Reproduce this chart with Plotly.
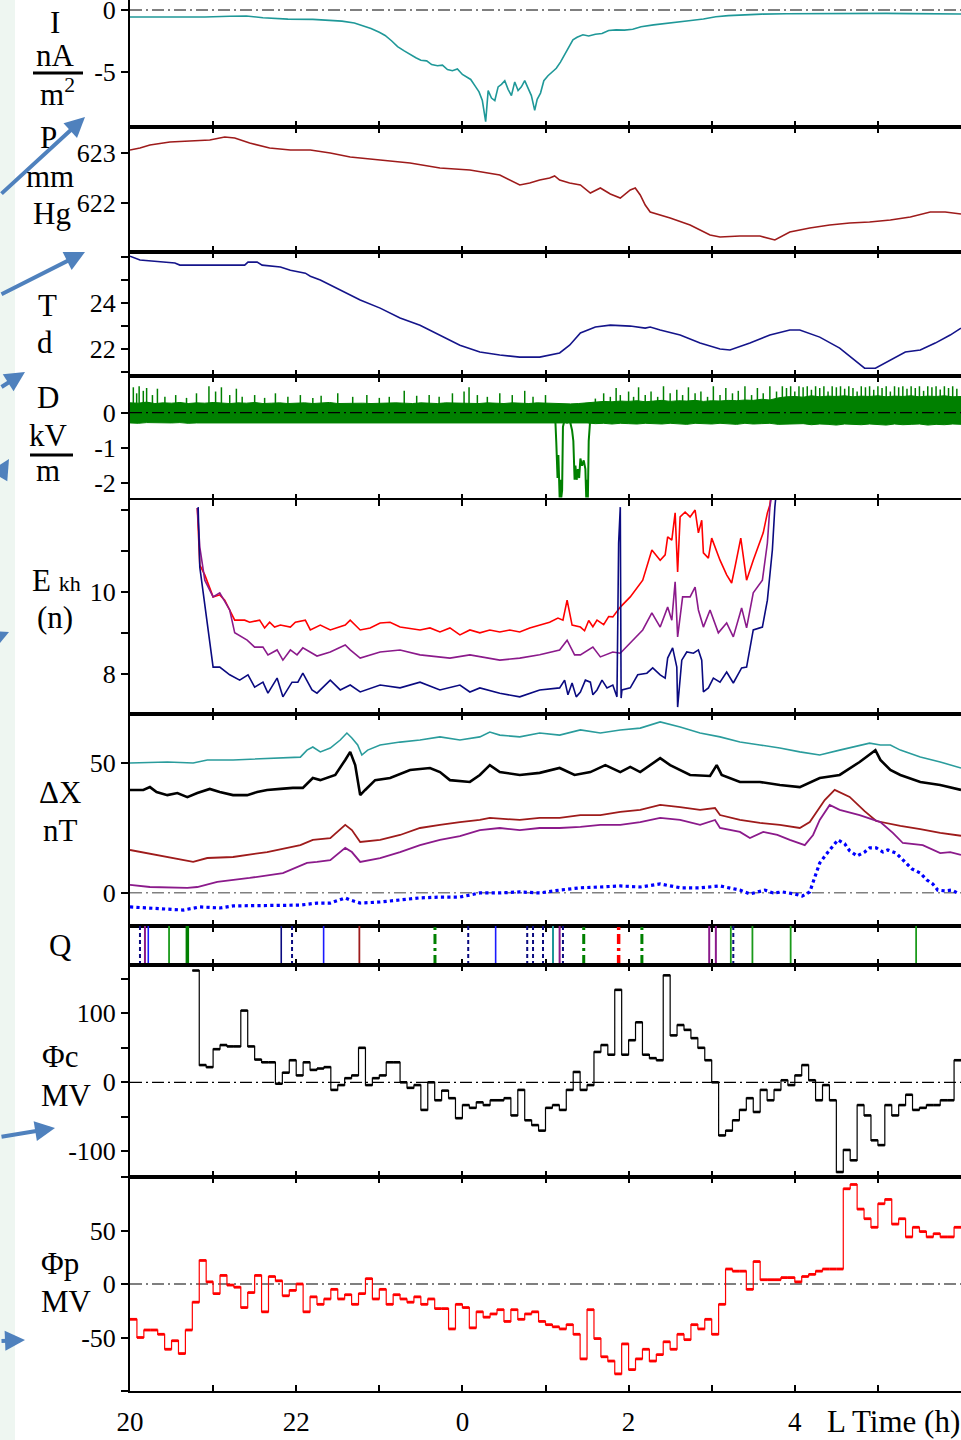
import plotly.graph_objects as go
from plotly.subplots import make_subplots

# ---------------- data ----------------
I_t = [20.0, 20.3, 20.6, 20.9, 21.2, 21.4, 21.6, 21.9, 22.2, 22.4, 22.55, 22.7, 22.8, 22.9, 23.0, 23.07, 23.15, 23.22, 23.3, 23.37,
       23.44, 23.5, 23.57, 23.63, 23.7, 23.76, 23.82, 23.88, 23.94, 24.0, 24.05, 24.1, 24.15, 24.2, 24.24, 24.28, 24.31, 24.35, 24.39, 24.43,
       24.47, 24.51, 24.55, 24.59, 24.63, 24.67, 24.71, 24.75, 24.79, 24.83, 24.87, 24.9, 24.94, 24.98, 25.03, 25.08, 25.13, 25.18, 25.23, 25.28,
       25.33, 25.38, 25.45, 25.52, 25.6, 25.68, 25.76, 25.85, 25.95, 26.05, 26.15, 26.3, 26.45, 26.6, 26.75, 26.9, 27.05, 27.2, 27.4, 27.6,
       27.9, 28.2, 28.5, 28.8, 29.1, 29.4, 29.7, 30.0]
I_v = [-0.56, -0.58, -0.55, -0.57, -0.5, -0.48, -0.62, -0.74, -0.76, -0.82, -0.9, -1.05, -1.25, -1.5, -1.8, -2.05, -2.5, -2.95, -3.3, -3.6,
       -3.85, -4.05, -4.1, -4.4, -4.5, -4.45, -4.8, -4.9, -4.75, -5.2, -5.4, -5.6, -6.1, -6.6, -7.3, -9.0, -6.5, -7.1, -7.3, -6.2,
       -6.0, -5.7, -6.4, -6.9, -5.8, -6.5, -6.2, -5.7, -6.3, -6.9, -8.1, -7.2, -6.7, -5.7, -5.3, -5.0, -4.7, -4.2, -3.6, -2.9,
       -2.4, -2.2, -2.0, -2.1, -1.95, -1.9, -1.65, -1.6, -1.62, -1.55, -1.35, -1.2, -1.1, -0.98, -0.85, -0.72, -0.55, -0.45, -0.38, -0.33,
       -0.3, -0.28, -0.27, -0.28, -0.27, -0.29, -0.3, -0.32]

P_t = [20.0, 20.12, 20.24, 20.48, 20.72, 20.96, 21.14, 21.26, 21.44, 21.68, 21.93, 22.17, 22.41, 22.65, 23.01, 23.37, 23.73, 24.09, 24.45, 24.57,
       24.69, 24.81, 24.93, 25.05, 25.11, 25.17, 25.29, 25.42, 25.54, 25.66, 25.78, 25.9, 26.02, 26.08, 26.14, 26.2, 26.26, 26.5, 26.74, 26.98,
       27.1, 27.34, 27.58, 27.76, 27.94, 28.18, 28.42, 28.66, 28.9, 29.15, 29.39, 29.63, 29.81, 30.0]
P_v = [623.06, 623.1, 623.16, 623.22, 623.24, 623.26, 623.32, 623.3, 623.2, 623.1, 623.06, 623.06, 623.0, 622.92, 622.86, 622.8, 622.7, 622.66, 622.56, 622.46,
       622.36, 622.4, 622.46, 622.5, 622.54, 622.46, 622.4, 622.36, 622.2, 622.3, 622.18, 622.1, 622.26, 622.3, 622.16, 621.96, 621.82, 621.7, 621.56, 621.36,
       621.32, 621.34, 621.34, 621.26, 621.42, 621.5, 621.56, 621.6, 621.62, 621.66, 621.72, 621.82, 621.82, 621.78]

T_t = [20.0, 20.12, 20.54, 20.6, 21.38, 21.42, 21.53, 21.59, 21.81, 21.93, 22.11, 22.17, 22.29, 22.53, 22.77, 23.01, 23.25, 23.49, 23.73, 23.97,
       24.21, 24.45, 24.69, 24.93, 25.17, 25.29, 25.42, 25.6, 25.78, 26.02, 26.2, 26.26, 26.38, 26.62, 26.86, 27.1, 27.22, 27.46, 27.7, 27.94,
       28.06, 28.3, 28.54, 28.72, 28.84, 28.97, 29.15, 29.33, 29.51, 29.69, 29.87, 30.0]
T_v = [26.04, 25.87, 25.74, 25.65, 25.65, 25.78, 25.78, 25.65, 25.57, 25.43, 25.3, 25.17, 25.0, 24.57, 24.13, 23.78, 23.35, 23.04, 22.61, 22.17,
       21.87, 21.74, 21.65, 21.65, 21.83, 22.17, 22.7, 22.96, 23.04, 23.0, 22.91, 22.96, 22.83, 22.61, 22.26, 22.0, 21.96, 22.26, 22.61, 22.83,
       22.83, 22.52, 22.04, 21.52, 21.17, 21.17, 21.52, 21.87, 21.96, 22.26, 22.61, 22.91]

# D: noise band envelope (every 0.1 h), upward spikes, and the negative excursions
D_env_t0, D_env_dt = 20.0, 0.1
D_hi = [0.28, 0.27, 0.30, 0.26, 0.28, 0.27, 0.29, 0.26, 0.28, 0.27,
        0.29, 0.27, 0.26, 0.28, 0.27, 0.29, 0.26, 0.27, 0.28, 0.26,
        0.27, 0.28, 0.26, 0.27, 0.29, 0.26, 0.27, 0.28, 0.27, 0.26,
        0.27, 0.26, 0.28, 0.27, 0.26, 0.28, 0.27, 0.26, 0.28, 0.27,
        0.28, 0.27, 0.26, 0.28, 0.27, 0.26, 0.28, 0.27, 0.26, 0.28,
        0.27, 0.26, 0.25, 0.25, 0.26, 0.27, 0.30, 0.32, 0.31, 0.33,
        0.32, 0.34, 0.31, 0.33, 0.35, 0.32, 0.34, 0.33, 0.35, 0.32,
        0.34, 0.33, 0.35, 0.34, 0.36, 0.35, 0.38, 0.36, 0.42, 0.45,
        0.46, 0.44, 0.48, 0.45, 0.47, 0.46, 0.48, 0.45, 0.47, 0.46,
        0.48, 0.45, 0.47, 0.46, 0.48, 0.45, 0.47, 0.46, 0.48, 0.45, 0.46]
D_lo = [-0.29, -0.30, -0.28, -0.29, -0.30, -0.29, -0.28, -0.30, -0.29, -0.29,
        -0.30, -0.29, -0.28, -0.29, -0.30, -0.29, -0.29, -0.28, -0.30, -0.29,
        -0.29, -0.30, -0.29, -0.28, -0.29, -0.30, -0.29, -0.29, -0.28, -0.30,
        -0.29, -0.29, -0.30, -0.28, -0.29, -0.30, -0.29, -0.28, -0.29, -0.30,
        -0.29, -0.30, -0.29, -0.28, -0.29, -0.30, -0.29, -0.29, -0.30, -0.28,
        -0.29, -0.30, -0.29, -0.29, -0.30, -0.29, -0.31, -0.30, -0.32, -0.30,
        -0.31, -0.32, -0.30, -0.31, -0.32, -0.30, -0.31, -0.33, -0.30, -0.31,
        -0.32, -0.30, -0.31, -0.33, -0.30, -0.32, -0.31, -0.30, -0.33, -0.32,
        -0.33, -0.31, -0.34, -0.32, -0.33, -0.35, -0.32, -0.33, -0.34, -0.32,
        -0.33, -0.35, -0.32, -0.34, -0.33, -0.32, -0.35, -0.33, -0.34, -0.32, -0.33]
D_spk_t = [20.04, 20.08, 20.11, 20.16, 20.2, 20.27, 20.33, 20.42, 20.55, 20.68, 20.8, 20.95, 21.03, 21.1, 21.2, 21.28, 21.35, 21.5, 21.62, 21.75,
           21.9, 22.05, 22.2, 22.3, 22.5, 22.68, 22.85, 23.0, 23.12, 23.3, 23.45, 23.6, 23.72, 23.88, 24.02, 24.08, 24.18, 24.3, 24.45, 24.6,
           24.75, 24.85, 25.0,
           25.6, 25.7, 25.78, 25.85, 25.9, 26.0, 26.06, 26.12, 26.2, 26.27, 26.35, 26.42, 26.5, 26.58, 26.65, 26.72, 26.8, 26.87, 26.95, 27.02,
           27.1, 27.17, 27.25, 27.32, 27.4, 27.48, 27.55, 27.62, 27.7, 27.78,
           27.85, 27.9, 27.95, 28.0, 28.05, 28.1, 28.15, 28.2, 28.25, 28.3, 28.35, 28.4, 28.45, 28.5, 28.55, 28.6, 28.65, 28.7, 28.75, 28.8,
           28.85, 28.9, 28.95, 29.0, 29.05, 29.1, 29.15, 29.2, 29.25, 29.3, 29.35, 29.4, 29.45, 29.5, 29.55, 29.6, 29.65, 29.7, 29.75, 29.8,
           29.85, 29.9, 29.95]
D_spk_v = [0.72, 0.55, 0.75, 0.62, 0.7, 0.5, 0.68, 0.45, 0.5, 0.42, 0.55, 0.75, 0.6, 0.72, 0.5, 0.68, 0.45, 0.5, 0.42, 0.55,
           0.45, 0.5, 0.42, 0.48, 0.55, 0.45, 0.5, 0.42, 0.45, 0.62, 0.48, 0.5, 0.45, 0.55, 0.6, 0.72, 0.5, 0.45, 0.55, 0.5,
           0.62, 0.45, 0.5,
           0.4, 0.55, 0.45, 0.7, 0.5, 0.6, 0.45, 0.72, 0.5, 0.6, 0.45, 0.75, 0.55, 0.65, 0.5, 0.72, 0.55, 0.6, 0.45, 0.75,
           0.5, 0.7, 0.55, 0.62, 0.75, 0.5, 0.7, 0.55, 0.75, 0.6,
           0.75, 0.7, 0.75, 0.6, 0.75, 0.72, 0.75, 0.65, 0.75, 0.7, 0.75, 0.6, 0.75, 0.72, 0.75, 0.68, 0.75, 0.7, 0.6, 0.75,
           0.72, 0.75, 0.65, 0.75, 0.7, 0.75, 0.6, 0.75, 0.72, 0.75, 0.68, 0.75, 0.7, 0.75, 0.62, 0.75, 0.72, 0.75, 0.66, 0.75,
           0.7, 0.75, 0.68]
D_dip_t = [25.09, 25.12, 25.13, 25.145, 25.155, 25.17, 25.18, 25.19, 25.2, 25.21, 25.22, 25.24, 25.26, 25.28, 25.3, 25.32, 25.335, 25.35, 25.36, 25.375,
           25.39, 25.405, 25.42, 25.44, 25.46, 25.48, 25.49, 25.5, 25.51, 25.52, 25.535, 25.55]
D_dip_v = [0.0, -0.3, -0.85, -1.85, -1.2, -2.4, -1.9, -2.4, -2.2, -0.4, -0.3, 0.1, -0.3, 0.05, -0.3, -0.5, -0.8, -1.9, -1.5, -1.9,
           -1.6, -1.85, -1.3, -1.5, -1.35, -1.6, -2.4, -1.9, -2.4, -0.8, -0.3, 0.0]

Er_t = [20.81, 20.84, 20.9, 21.0, 21.08, 21.14, 21.26, 21.38, 21.44, 21.56, 21.62, 21.68, 21.74, 21.81, 21.93, 21.99, 22.11, 22.17, 22.29, 22.41,
        22.59, 22.65, 22.77, 22.89, 23.01, 23.13, 23.25, 23.49, 23.61, 23.73, 23.85, 23.97, 24.09, 24.21, 24.33, 24.45, 24.57, 24.69, 24.81, 24.93,
        25.05, 25.15, 25.21, 25.26, 25.32, 25.42, 25.47, 25.52, 25.57, 25.62, 25.7, 25.76, 25.81, 25.9, 26.02, 26.17, 26.28, 26.38, 26.44, 26.47,
        26.52, 26.56, 26.59, 26.62, 26.68, 26.74, 26.8, 26.84, 26.88, 26.9, 26.96, 27.0, 27.1, 27.18, 27.24, 27.28, 27.35, 27.42, 27.5, 27.62,
        27.67, 27.7, 27.72]
Er_v = [12.06, 10.66, 10.42, 9.88, 9.93, 9.8, 9.31, 9.31, 9.26, 9.31, 9.12, 9.26, 9.14, 9.19, 9.14, 9.26, 9.31, 9.07, 9.19, 9.07,
        9.19, 9.31, 9.07, 9.12, 9.24, 9.26, 9.14, 9.07, 9.12, 9.02, 9.12, 8.95, 9.07, 9.0, 9.07, 9.02, 9.07, 9.02, 9.12, 9.19,
        9.26, 9.36, 9.31, 9.8, 9.19, 9.14, 9.05, 9.3, 9.15, 9.31, 9.2, 9.4, 9.39, 9.63, 9.88, 10.29, 11.03, 10.78, 10.91, 11.35,
        11.27, 11.94, 10.49, 11.84, 11.96, 11.84, 12.01, 11.45, 11.76, 10.96, 10.83, 11.32, 10.78, 10.42, 10.22, 10.61, 11.32, 10.29, 10.78, 11.45,
        11.94, 12.13, 12.5]

Ep_t = [20.81, 20.84, 20.9, 21.0, 21.08, 21.2, 21.26, 21.41, 21.5, 21.6, 21.66, 21.77, 21.84, 21.93, 22.01, 22.08, 22.25, 22.41, 22.59, 22.65,
        22.77, 23.01, 23.25, 23.49, 23.85, 24.09, 24.45, 24.69, 24.93, 25.17, 25.26, 25.35, 25.42, 25.57, 25.66, 25.81, 25.9, 26.05, 26.17, 26.28,
        26.38, 26.47, 26.52, 26.56, 26.59, 26.65, 26.74, 26.8, 26.84, 26.9, 26.98, 27.08, 27.18, 27.26, 27.36, 27.42, 27.5, 27.61, 27.67, 27.7,
        27.73]
Ep_v = [12.06, 11.1, 10.29, 9.88, 9.98, 9.56, 9.0, 8.82, 8.65, 8.65, 8.46, 8.58, 8.33, 8.58, 8.46, 8.63, 8.43, 8.53, 8.7, 8.58,
        8.38, 8.53, 8.58, 8.46, 8.38, 8.46, 8.33, 8.38, 8.46, 8.58, 8.82, 8.46, 8.46, 8.65, 8.41, 8.53, 8.5, 8.82, 9.07, 9.49,
        9.14, 9.63, 9.31, 10.25, 8.9, 9.88, 9.88, 10.12, 9.56, 9.14, 9.56, 9.0, 9.24, 8.9, 9.61, 9.12, 9.98, 10.29, 11.2, 12.08,
        12.5]

En_t = [20.82, 20.84, 21.0, 21.08, 21.2, 21.32, 21.42, 21.5, 21.6, 21.66, 21.77, 21.84, 21.95, 22.02, 22.08, 22.19, 22.25, 22.41, 22.53, 22.65,
        22.77, 23.01, 23.25, 23.49, 23.73, 23.97, 24.09, 24.21, 24.45, 24.69, 24.93, 25.17, 25.23, 25.27, 25.32, 25.37, 25.42, 25.48, 25.54, 25.57,
        25.62, 25.68, 25.74, 25.81, 25.86, 25.88, 25.9, 25.91, 25.92, 26.02, 26.11, 26.22, 26.29, 26.38, 26.44, 26.47, 26.53, 26.58, 26.59, 26.64,
        26.7, 26.78, 26.84, 26.88, 26.9, 26.96, 27.02, 27.1, 27.18, 27.26, 27.36, 27.42, 27.5, 27.61, 27.67, 27.73, 27.76, 27.78]
En_v = [12.08, 10.61, 8.16, 8.16, 7.97, 7.84, 7.97, 7.67, 7.79, 7.52, 7.89, 7.43, 7.79, 7.79, 8.01, 7.6, 7.52, 7.84, 7.6, 7.72,
        7.55, 7.72, 7.65, 7.79, 7.6, 7.72, 7.55, 7.65, 7.52, 7.43, 7.6, 7.65, 7.84, 7.48, 7.77, 7.43, 7.55, 7.84, 7.79, 7.48,
        7.6, 7.84, 7.65, 7.72, 7.43, 11.2, 12.08, 7.4, 7.6, 7.65, 7.97, 8.01, 8.14, 7.97, 7.89, 8.38, 8.63, 8.16, 7.18, 8.33,
        8.53, 8.5, 8.58, 8.33, 7.55, 7.65, 7.89, 7.79, 8.04, 7.77, 8.14, 8.16, 9.07, 9.14, 9.8, 11.03, 12.08, 12.5]

Xt_t = [20.0, 20.45, 20.76, 20.93, 21.24, 21.65, 22.05, 22.13, 22.2, 22.29, 22.41, 22.53, 22.61, 22.67, 22.74, 22.79, 22.86, 23.01, 23.25, 23.49,
        23.73, 23.97, 24.21, 24.33, 24.45, 24.69, 24.93, 25.17, 25.42, 25.66, 25.9, 26.14, 26.38, 26.62, 26.86, 27.1, 27.34, 27.58, 27.82, 28.06,
        28.3, 28.54, 28.78, 28.9, 29.03, 29.15, 29.27, 29.51, 29.75, 30.0]
Xt_v = [50.1, 50.5, 50.1, 51.3, 51.3, 52.0, 52.4, 55.1, 56.3, 54.4, 55.9, 59.0, 61.7, 59.8, 57.1, 53.2, 55.1, 57.1, 58.2, 59.0,
        60.2, 59.0, 60.2, 62.1, 60.9, 60.2, 61.7, 60.9, 62.9, 61.7, 62.9, 63.6, 66.0, 64.0, 61.7, 60.2, 58.2, 57.1, 55.9, 54.4,
        53.2, 55.1, 57.1, 57.8, 57.1, 57.1, 55.1, 52.4, 50.5, 48.2]

Xk_t = [20.0, 20.16, 20.24, 20.32, 20.45, 20.57, 20.69, 20.81, 20.96, 21.08, 21.24, 21.41, 21.53, 21.65, 21.81, 21.96, 22.08, 22.2, 22.29, 22.47,
        22.59, 22.65, 22.71, 22.77, 22.83, 22.95, 23.13, 23.37, 23.61, 23.73, 23.85, 24.09, 24.21, 24.33, 24.45, 24.69, 24.93, 25.17, 25.35, 25.54,
        25.72, 25.9, 26.02, 26.14, 26.38, 26.5, 26.74, 26.98, 27.06, 27.12, 27.34, 27.58, 27.82, 28.06, 28.3, 28.54, 28.78, 28.97, 29.03, 29.15,
        29.27, 29.51, 29.75, 30.0]
Xk_v = [39.7, 39.7, 40.8, 38.9, 37.7, 38.5, 36.9, 38.5, 40.1, 38.9, 37.7, 37.7, 38.9, 39.7, 40.1, 40.5, 40.5, 44.3, 43.5, 45.5,
        51.3, 54.4, 49.3, 37.7, 39.7, 43.5, 44.3, 47.4, 48.2, 46.6, 43.5, 42.8, 45.5, 49.3, 46.6, 45.5, 46.3, 48.2, 45.5, 46.6,
        49.3, 46.6, 48.6, 46.6, 52.0, 49.3, 45.5, 45.1, 49.3, 45.5, 42.8, 42.8, 41.6, 40.8, 44.3, 45.5, 50.5, 55.1, 51.3, 47.4,
        45.5, 42.8, 41.6, 39.7]

Xr_t = [20.0, 20.45, 20.76, 20.93, 21.24, 21.65, 22.05, 22.2, 22.41, 22.59, 22.67, 22.77, 23.01, 23.25, 23.49, 23.73, 23.97, 24.21, 24.33, 24.69,
        24.93, 25.17, 25.42, 25.66, 25.9, 26.14, 26.38, 26.62, 26.86, 27.04, 27.1, 27.34, 27.58, 27.82, 28.06, 28.18, 28.24, 28.36, 28.48, 28.66,
        28.84, 28.98, 29.27, 29.51, 29.75, 30.0]
Xr_v = [16.5, 13.8, 11.9, 13.4, 13.8, 15.7, 18.4, 20.4, 21.1, 26.2, 24.2, 19.6, 20.4, 22.3, 25.0, 26.2, 27.3, 28.1, 28.9, 28.1,
        28.9, 28.9, 30.0, 30.0, 31.2, 32.0, 33.9, 33.1, 32.0, 32.7, 30.0, 28.1, 27.0, 26.2, 25.0, 27.3, 30.0, 35.8, 39.7, 37.0,
        31.5, 27.7, 25.8, 24.6, 23.1, 22.0]

Xp_t = [20.0, 20.24, 20.69, 20.81, 21.05, 21.44, 21.84, 22.13, 22.25, 22.41, 22.59, 22.67, 22.77, 23.01, 23.25, 23.49, 23.73, 23.97, 24.21, 24.45,
        24.69, 24.93, 25.17, 25.42, 25.66, 25.9, 26.14, 26.38, 26.62, 26.86, 27.04, 27.1, 27.34, 27.46, 27.62, 27.79, 27.94, 28.12, 28.22, 28.3,
        28.42, 28.54, 28.78, 29.03, 29.18, 29.3, 29.54, 29.75, 29.87, 30.0]
Xp_v = [3.0, 2.2, 1.9, 2.2, 4.2, 5.7, 7.6, 11.5, 11.9, 12.6, 17.3, 15.7, 11.9, 13.4, 15.7, 18.4, 20.4, 21.9, 24.2, 25.0,
        24.2, 25.0, 25.0, 25.4, 26.2, 26.2, 27.3, 28.9, 28.1, 26.2, 28.1, 25.0, 23.5, 21.1, 23.5, 22.3, 20.4, 18.4, 22.3, 28.1,
        33.9, 32.0, 30.0, 27.3, 23.1, 19.2, 18.4, 15.3, 15.7, 14.6]

Xb_t = [20.0, 20.24, 20.64, 20.84, 21.08, 21.24, 21.65, 22.05, 22.25, 22.41, 22.59, 22.65, 22.77, 23.01, 23.25, 23.49, 23.73, 23.97, 24.21, 24.45,
        24.69, 24.93, 25.17, 25.42, 25.66, 25.9, 26.14, 26.38, 26.62, 26.86, 27.1, 27.34, 27.46, 27.56, 27.64, 27.74, 27.85, 28.0, 28.09, 28.18,
        28.24, 28.3, 28.4, 28.52, 28.6, 28.66, 28.75, 28.84, 28.9, 28.98, 29.06, 29.12, 29.22, 29.3, 29.41, 29.51, 29.59, 29.66, 29.72, 29.81,
        29.89, 29.98]
Xb_v = [-5.5, -5.9, -6.7, -5.5, -5.9, -5.1, -4.8, -4.8, -4.0, -4.0, -2.0, -2.8, -4.0, -3.6, -2.8, -2.0, -1.7, -1.7, -0.1, -0.1,
        0.3, -0.1, 1.0, 1.9, 2.2, 2.6, 2.2, 3.4, 1.9, 1.9, 2.6, 1.0, -0.5, 0.3, 1.0, -0.1, 0.3, -0.5, -1.3, 0.3,
        5.7, 11.5, 15.7, 20.4, 18.9, 16.2, 14.2, 15.7, 17.3, 17.3, 15.7, 16.5, 15.3, 12.6, 9.2, 7.6, 4.9, 3.4, 1.0, 0.7,
        1.0, -0.5]

Q_t = [20.12, 20.18, 20.22, 20.47, 20.69, 21.82, 21.95, 22.33, 22.76, 23.67, 24.07, 24.4, 24.78, 24.85, 24.97, 25.09, 25.17, 25.21, 25.46, 25.88,
       26.16, 26.97, 27.05, 27.23, 27.26, 27.49, 27.95, 29.46]
Q_kind = ["navydot", "purple", "blue", "green", "greenthick", "navy", "navydot", "blue", "darkred", "greendashdot", "navydot", "blue",
          "navydot", "navydot", "navydot", "teal", "purple", "navydot", "greendashdot", "reddashdot", "greendashdot", "purple", "purple",
          "green", "navydot", "green", "green", "green"]

Phic_t0, Phic_dt = 20.75, 1.0 / 12
Phic_v = [162, 25, 22, 48, 54, 52, 52, 104, 52, 33, 29, 29, -2, 14, 32, 10, 29, 18, 20, 22,
          -11, -4, 6, 10, 50, -4, 6, 10, 29, 29, 0, -8, -4, -40, 0, -26, -12, -23, -52, -33,
          -37, -29, -33, -26, -26, -23, -48, -11, -55, -62, -70, -37, -33, -40, -11, 15, -11, -4, 44, 54,
          40, 134, 40, 61, 87, 40, 35, 32, 155, 68, 83, 76, 64, 50, 32, 0, -77, -70, -55, -40,
          -23, -43, -11, -26, -11, 3, -4, 10, 25, 3, -26, -4, -26, -130, -98, -113, -33, -48, -84, -91,
          -33, -48, -33, -18, -40, -37, -33, -33, -26, -26, 32]

Phip_t0, Phip_dt = 20.0, 1.0 / 12
Phip_v = [-33, -50, -43, -43, -47, -61, -53, -65, -43, -17, 22, 2, -9, 8, -1, -3, -22, -8, 8, -26,
          7, 3, -11, -6, 0, -26, -12, -19, -14, -5, -14, -10, -19, -9, 5, -14, -5, -19, -10, -14,
          -17, -12, -19, -14, -23, -23, -42, -19, -22, -41, -26, -31, -28, -24, -35, -24, -33, -28, -26, -35,
          -38, -40, -42, -38, -47, -70, -24, -51, -68, -72, -84, -56, -80, -70, -61, -72, -66, -54, -61, -47,
          -52, -38, -42, -33, -47, -19, 14, 12, 12, -5, 21, 4, 4, 4, 6, 6, 2, 7, 9, 12,
          14, 14, 14, 89, 93, 70, 61, 53, 75, 79, 56, 61, 44, 53, 49, 44, 47, 44, 44, 53]

x_tickvals = list(range(20, 31))
x_ticktext = ["20", "", "22", "", "0", "", "2", "", "4", "", ""]

for a, b in [(I_t, I_v), (P_t, P_v), (T_t, T_v), (Er_t, Er_v), (Ep_t, Ep_v), (En_t, En_v), (D_hi, D_lo),
             (D_spk_t, D_spk_v), (D_dip_t, D_dip_v),
             (Xt_t, Xt_v), (Xk_t, Xk_v), (Xr_t, Xr_v), (Xp_t, Xp_v), (Xb_t, Xb_v), (Q_t, Q_kind)]:
    assert len(a) == len(b), (len(a), len(b))

# ---------------- figure ----------------
W, H = 961, 1440
ML, MT, MB = 130, 0, 49
PH = H - MT - MB
FONT = "Liberation Serif, Times New Roman, serif"

row_px = [127, 125, 124, 124, 214, 212, 39, 212, 214]
fig = make_subplots(rows=9, cols=1, shared_xaxes=True, vertical_spacing=0, row_heights=row_px)

def step_xy(t0, dt, vals):
    xs = [t0 + i * dt for i in range(len(vals))] + [t0 + len(vals) * dt]
    return xs, list(vals) + [vals[-1]]

def flat_xy(t0, dt, vals):
    xs, ys = [], []
    for i, v in enumerate(vals):
        xs += [t0 + i * dt, t0 + (i + 1) * dt, None]
        ys += [v, v, None]
    return xs, ys

def line(x, y, color, width=1.5, dash="solid", shape="linear", **kw):
    return go.Scatter(x=x, y=y, mode="lines", line=dict(color=color, width=width, dash=dash, shape=shape),
                      hoverinfo="skip", showlegend=False, **kw)

TEAL = "#1f9898"
DARKRED = "#9e1b1b"
NAVY = "#14148a"
PURPLE = "#8b1a8b"
GREEN = "#008000"

fig.add_trace(line(I_t, I_v, TEAL, 1.6), row=1, col=1)
fig.add_trace(line(P_t, P_v, DARKRED, 1.6), row=2, col=1)
fig.add_trace(line(T_t, T_v, NAVY, 1.6), row=3, col=1)

D_env_x = [D_env_t0 + i * D_env_dt for i in range(len(D_hi))]
fig.add_trace(line(D_env_x, D_hi, GREEN, 1.0), row=4, col=1)
fig.add_trace(line(D_env_x, D_lo, GREEN, 1.0, fill="tonexty", fillcolor=GREEN), row=4, col=1)
spx, spy = [], []
for t, v in zip(D_spk_t, D_spk_v):
    spx += [t, t, None]
    spy += [0, v, None]
fig.add_trace(line(spx, spy, GREEN, 1.5), row=4, col=1)
fig.add_trace(line(D_dip_t, D_dip_v, GREEN, 2.0), row=4, col=1)

fig.add_trace(line(Er_t, Er_v, "#ff0000", 1.6), row=5, col=1)
fig.add_trace(line(Ep_t, Ep_v, PURPLE, 1.6), row=5, col=1)
fig.add_trace(line(En_t, En_v, "#0a0a80", 1.6), row=5, col=1)
fig.add_trace(line(Xt_t, Xt_v, "#2a9c9c", 1.6), row=6, col=1)
fig.add_trace(line(Xr_t, Xr_v, DARKRED, 1.8), row=6, col=1)
fig.add_trace(line(Xp_t, Xp_v, PURPLE, 1.8), row=6, col=1)
fig.add_trace(line(Xk_t, Xk_v, "black", 2.6), row=6, col=1)
fig.add_trace(line(Xb_t, Xb_v, "#0000ff", 3.2, dash="dot"), row=6, col=1)

q_styles = {
    "navydot": ("#0a0a80", 2, "4px,3px"),
    "navy": ("#0a0a80", 1.6, "solid"),
    "purple": (PURPLE, 2, "solid"),
    "blue": ("#1a1aff", 1.6, "solid"),
    "green": ("#1a9a1a", 1.8, "solid"),
    "greenthick": (GREEN, 3.5, "solid"),
    "darkred": (DARKRED, 1.8, "solid"),
    "greendashdot": (GREEN, 3, "10px,4px,3px,4px"),
    "reddashdot": ("#ff0000", 3.5, "10px,4px,3px,4px"),
    "teal": (TEAL, 2, "solid"),
}
for t, k in zip(Q_t, Q_kind):
    c, w, d = q_styles[k]
    fig.add_trace(line([t, t], [0, 1], c, w, dash=d), row=7, col=1)

sx, sy = step_xy(Phic_t0, Phic_dt, Phic_v)
fig.add_trace(line(sx, sy, "black", 1.2, shape="hv"), row=8, col=1)
fx, fy = flat_xy(Phic_t0, Phic_dt, Phic_v)
fig.add_trace(line(fx, fy, "black", 2.6), row=8, col=1)

sx, sy = step_xy(Phip_t0, Phip_dt, Phip_v)
fig.add_trace(line(sx, sy, "#ff0000", 1.2, shape="hv"), row=9, col=1)
fx, fy = flat_xy(Phip_t0, Phip_dt, Phip_v)
fig.add_trace(line(fx, fy, "#ff0000", 2.8), row=9, col=1)

# zero reference lines
for r, col in [(1, "black"), (4, "black"), (6, "#808080"), (8, "black"), (9, "black")]:
    fig.add_hline(y=0, row=r, col=1, line=dict(color=col, width=1.2 if r != 6 else 1.6, dash="12px,4px,2px,4px"),
                  layer="above" if r == 4 else "below")

# axes
fig.update_xaxes(range=[20, 30], showline=True, linecolor="black", linewidth=2, mirror="ticks",
                 ticks="inside", ticklen=6, tickwidth=2, tickcolor="black", tickvals=x_tickvals,
                 showgrid=False, zeroline=False, automargin=False)
fig.update_xaxes(mirror=False, row=1, col=1)
fig.update_xaxes(row=9, col=1, showticklabels=True, ticktext=x_ticktext, ticklabeloverflow="allow",
                 tickfont=dict(family=FONT, size=27, color="black"), ticklabelstandoff=6)

y_cfg = [
    ([-9.435, 0.806], [0, -5], ["0", "-5"]),
    ([621.02, 623.52], [622, 623], ["622", "623"]),
    ([20.83, 26.22], [21, 22, 23, 24, 25, 26], ["", "22", "", "24", "", ""]),
    ([-2.473, 1.04], [-2, -1, 0], ["-2", "-1", "0"]),
    ([7.01, 12.255], [7, 8, 9, 10, 11, 12], ["", "8", "", "10", "", ""]),
    ([-12.87, 69.05], [0, 50], ["0", "50"]),
    ([0, 1], [], []),
    ([-137.2, 170], [-100, -50, 0, 50, 100, 150], ["-100", "", "0", "", "100", ""]),
    ([-100, 100], [-100, -50, 0, 50, 100], ["", "-50", "0", "50", ""]),
]
for i, (rng, tv, tt) in enumerate(y_cfg, start=1):
    fig.update_yaxes(row=i, col=1, range=rng, tickvals=tv, ticktext=tt, showline=True, linecolor="black",
                     linewidth=2, ticks="outside" if tv else "", ticklen=7, tickwidth=2, tickcolor="black",
                     showgrid=False, zeroline=False, ticklabeloverflow="allow", automargin=False,
                     tickfont=dict(family=FONT, size=26, color="black"))

def px_x(px):
    return (px - ML) / (W - ML)

def px_y(py):
    return 1 - (py - MT) / PH

shapes = [dict(type="rect", xref="paper", yref="paper", x0=px_x(0), x1=px_x(15), y0=px_y(H), y1=px_y(0),
               fillcolor="#eef6f1", line=dict(width=0), layer="below")]
for x0, x1, y in [(33, 83, 73), (30, 73, 455)]:
    shapes.append(dict(type="line", xref="paper", yref="paper", x0=px_x(x0), x1=px_x(x1), y0=px_y(y), y1=px_y(y),
                       line=dict(color="black", width=3)))
for s in shapes:
    fig.add_shape(s)

labels = [
    ("I", 55, 22), ("nA", 55, 56), ("m<sup>2</sup>", 57, 92),
    ("P", 48, 137), ("mm", 50, 176), ("Hg", 52, 213),
    ("T", 47, 305), ("d", 45, 342),
    ("D", 48, 398), ("kV", 48, 436), ("m", 48, 470),
    ("E <span style='font-size:22px'>kh</span>", 56, 580), ("(n)", 55, 618),
    ("\u0394X", 60, 792), ("nT", 60, 830),
    ("Q", 60, 945),
    ("\u03a6c", 60, 1056), ("MV", 66, 1095),
    ("\u03a6p", 60, 1263), ("MV", 66, 1301),
]
for txt, x, y in labels:
    fig.add_annotation(text=txt, x=px_x(x), y=px_y(y), xref="paper", yref="paper", showarrow=False,
                       xanchor="center", yanchor="middle", font=dict(family=FONT, size=31, color="black"))

fig.add_annotation(text="L Time (h)", x=px_x(962), y=px_y(1421), xref="paper", yref="paper", showarrow=False,
                   xanchor="right", yanchor="middle", font=dict(family=FONT, size=31, color="black"))

ARROW = "#4f81bd"
for hx, hy, tx, ty in [(85, 117, -5, 195), (85, 252, -5, 295), (25, 372, -5, 388), (9, 459, -20, 474),
                       (9, 632, -20, 636), (55, 1128, -5, 1137), (25, 1340, -5, 1341)]:
    fig.add_annotation(text="", x=px_x(hx), y=px_y(hy), xref="paper", yref="paper", showarrow=True,
                       ax=tx - hx, ay=ty - hy, arrowhead=2, arrowsize=1, arrowwidth=4, arrowcolor=ARROW)

fig.update_layout(width=W, height=H, margin=dict(l=ML, r=0, t=MT, b=MB, autoexpand=False), paper_bgcolor="white",
                  plot_bgcolor="white", showlegend=False, font=dict(family=FONT, color="black"))

fig.write_html("out.html", config={"displayModeBar": False},
               post_script="document.body.style.margin='0px';document.body.style.padding='0px';")
